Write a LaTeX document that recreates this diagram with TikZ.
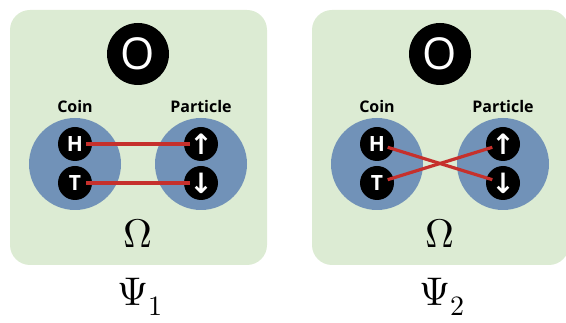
\documentclass[tikz,border=0pt]{standalone}
\usepackage{fontspec}
\usepackage{unicode-math}
\setmathfont{Latin Modern Math}
\setsansfont{Open Sans}
\newfontfamily\arrowfont{DejaVu Sans}
\definecolor{G}{HTML}{DCEBD3}
\definecolor{B}{HTML}{7192B8}
\definecolor{R}{HTML}{C6302C}

\begin{document}
\begin{tikzpicture}[x=1pt,y=-1pt]
\tikzstyle{panel} = [fill=G,rounded corners=20pt]
\tikzstyle{o} = [circle,fill=black,text=white,inner sep=0mm,minimum size=62pt,font=\sffamily\fontsize{44}{44}\selectfont]
\tikzstyle{s} = [circle,fill=B,inner sep=0mm,minimum size=92pt]
\tikzstyle{n} = [circle,fill=black,text=white,inner sep=0mm,minimum size=34pt,font=\sffamily\bfseries\fontsize{21}{21}\selectfont]
\tikzstyle{ar} = [n,font=\arrowfont\bfseries\fontsize{28}{28}\selectfont]
\tikzstyle{lbl} = [font=\sffamily\bfseries\fontsize{16}{16}\selectfont]
\tikzstyle{big} = [font=\fontsize{40}{40}\selectfont]
\tikzstyle{a} = [R,line width=3.2pt,shorten <=-6pt,shorten >=-6pt]
\useasboundingbox (0,0) rectangle (566,323);
\foreach \i/\x in {1/0,2/302} {
  \fill[panel] (10+\x,10) rectangle (267+\x,265);
  \node[o] (O\i) at (138+\x,54) {O};
  \node[lbl] (coin\i) at (75+\x,107) {Coin};
  \node[lbl] (part\i) at (201+\x,107) {Particle};
  \node[s] (sc\i) at (75+\x,164) {};
  \node[s] (sp\i) at (201+\x,164) {};
  \node[n] (H\i) at (75+\x,144) {H};
  \node[n] (T\i) at (75+\x,183) {T};
  \node[ar] (U\i) at (201+\x,144) {↑};
  \node[ar] (D\i) at (201+\x,183) {↓};
  \node[big] (om\i) at (138+\x,233) {$\Omega$};
  \node[big] (psi\i) at (140+\x,297) {$\Psi_\i$};
}
% same outcomes
\draw[a] (H1) -- (U1);
\draw[a] (T1) -- (D1);
% crossed
\draw[a] (H2) -- (D2);
\draw[a] (T2) -- (U2);
\end{tikzpicture}
\end{document}
